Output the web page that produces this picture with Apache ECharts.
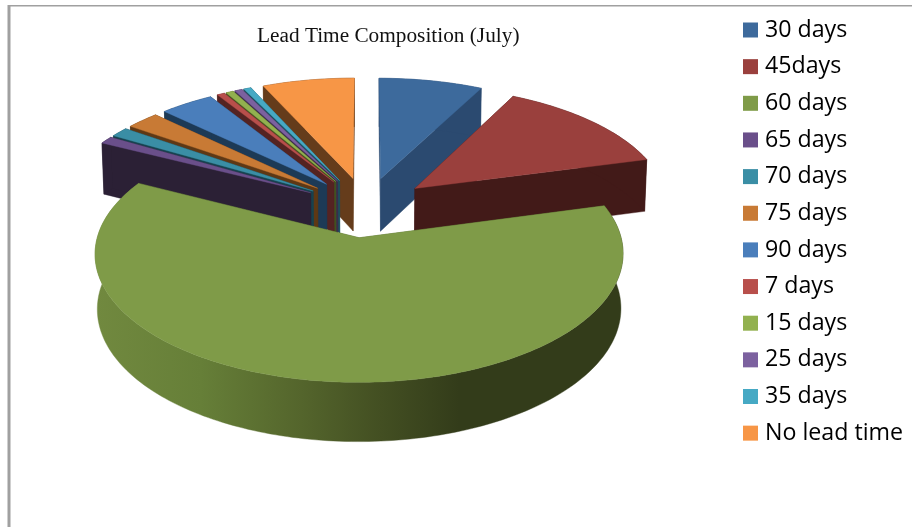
<!DOCTYPE html>
<html>
<head>
<meta charset="utf-8">
<style>html,body{margin:0;padding:0;background:#fff}#c{width:912px;height:527px}</style>
<script src="https://cdn.jsdelivr.net/npm/echarts@6/dist/echarts.min.js"></script>
</head>
<body>
<div id="c"></div>
<script>
const chartTitle = 'Lead Time Composition (July)';
const categories = ['30 days','45days','60 days','65 days','70 days','75 days','90 days','7 days','15 days','25 days','35 days','No lead time'];
const shares = [7.55,13.25,61.7,1.0,1.3,2.4,3.9,0.55,0.55,0.55,0.55,6.7];
const topColors = ['#3d6a9c','#9a403d','#7f9b48','#6a4f8a','#3a8ea5','#c87a35','#4a7ebb','#b84f4b','#92b14f','#7c619f','#46a9c4','#f79646'];
const wallColors = ['#2b4a70','#421a18','#4d6229','#2b2035','#17424f','#5e3815','#1d3a56','#542322','#43531f','#3b2d4b','#1c4f5e','#653c1b'];

// 3D projection of the exploded pie
const view = {cx:366, cy:207, A:254, B:119, H:54.5, p:0.121, q:0.018, qx:0.008, explode:0.252};
function project(U, V, Z) {
  const w = 1 + view.p * V;
  return [view.cx + view.A * U / (w + view.qx * Z), view.cy - (view.B * V - view.H * Z) / (w + view.q * Z)];
}
const total = shares.reduce((a, b) => a + b, 0);
let running = 0;
const slices = shares.map((v, i) => {
  const a0 = running / total * 2 * Math.PI;
  running += v;
  const a1 = running / total * 2 * Math.PI;
  return {i, a0, a1, mid: (a0 + a1) / 2};
});
function arc(s, Z) {
  const n = Math.max(2, Math.ceil((s.a1 - s.a0) / 0.02));
  const ox = view.explode * Math.sin(s.mid), oy = view.explode * Math.cos(s.mid);
  const out = [];
  for (let k = 0; k <= n; k++) {
    const t = s.a0 + (s.a1 - s.a0) * k / n;
    out.push(project(ox + Math.sin(t), oy + Math.cos(t), Z));
  }
  return out;
}
function apex(s, Z) {
  return project(view.explode * Math.sin(s.mid), view.explode * Math.cos(s.mid), Z);
}
function sliceShapes(s) {
  const i = s.i;
  const t = arc(s, 0), b = arc(s, 1), a = apex(s, 0), c = apex(s, 1);
  const wall = wallColors[i];
  const poly = (points, fill) => ({type:'polygon', shape:{points}, style:{fill, stroke:fill, lineWidth:0.4}});
  const outerFill = categories[i] === '60 days'
    ? new echarts.graphic.LinearGradient(0, 0, 1, 0, [
        {offset:0, color:'#71893f'},
        {offset:0.2, color:'#667f38'},
        {offset:0.39, color:'#54652c'},
        {offset:0.54, color:'#434f22'},
        {offset:0.69, color:'#333c1a'},
        {offset:1, color:'#333c1a'}
      ])
    : wall;
  return [
    poly([a, t[0], b[0], c], wall),
    poly([a, t[t.length - 1], b[b.length - 1], c], wall),
    poly(t.concat(b.slice().reverse()), outerFill),
    poly([a].concat(t), topColors[i])
  ];
}
// paint back slices first, the slice nearest the viewer last
const order = slices.slice().sort((x, y) =>
  Math.abs(Math.PI - y.mid) - Math.abs(Math.PI - x.mid));

const series = order.map((s, idx) => ({
  type:'custom',
  name:categories[s.i],
  coordinateSystem:'none',
  silent:true,
  z:2 + idx,
  itemStyle:{color:topColors[s.i]},
  data:[shares[s.i]],
  renderItem:() => ({type:'group', children:sliceShapes(s)})
}));

const chart = echarts.init(document.getElementById('c'), null, {renderer:'canvas'});
chart.setOption({
  animation:false,
  backgroundColor:'#fff',
  title:{
    text:chartTitle, left:252, top:21,
    textStyle:{fontFamily:'Liberation Serif', fontSize:21.3, fontWeight:'normal', color:'#111'}
  },
  legend:{
    orient:'vertical', left:743, top:16, padding:0,
    itemWidth:15, itemHeight:15, itemGap:8.65, icon:'rect', selectedMode:false,
    data:categories.map((n, i) => ({name:n, itemStyle:{color:topColors[i]}})),
    textStyle:{fontFamily:'Open Sans', fontSize:23.2, color:'#000', lineHeight:28, padding:[0,0,0,2]}
  },
  graphic:[
    {type:'rect', shape:{x:8, y:5, width:904, height:1.6}, style:{fill:'#a0a0a0'}, silent:true},
    {type:'rect', shape:{x:7.5, y:5, width:3, height:522}, style:{fill:'#a0a0a0'}, silent:true}
  ],
  series
});
</script>
</body>
</html>
